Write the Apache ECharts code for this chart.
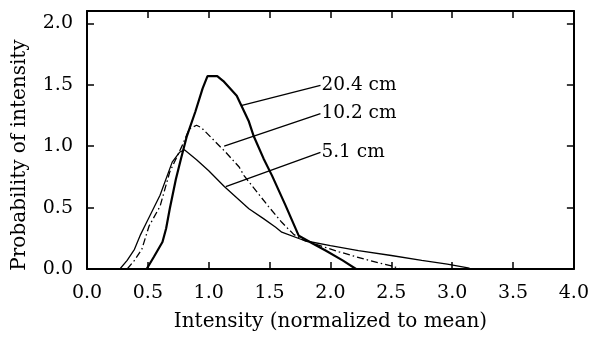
<!DOCTYPE html>
<html>
<head>
<meta charset="utf-8">
<script src="https://cdn.jsdelivr.net/npm/echarts@6/dist/echarts.min.js"></script>
<style>html,body{margin:0;padding:0;background:#fff}#c{width:592px;height:337px}</style>
</head>
<body>
<div id="c"></div>
<script>
// Data
const xTicks = [0, 0.5, 1.0, 1.5, 2.0, 2.5, 3.0, 3.5, 4.0];
const yTicks = [0, 0.5, 1.0, 1.5, 2.0];
const s204 = [[0.49,0],[0.55,0.10],[0.62,0.22],[0.65,0.33],[0.68,0.49],[0.73,0.73],[0.77,0.89],[0.82,1.08],[0.89,1.28],[0.95,1.47],[0.99,1.57],[1.07,1.57],[1.12,1.53],[1.23,1.41],[1.33,1.20],[1.37,1.08],[1.45,0.90],[1.52,0.76],[1.63,0.52],[1.74,0.27],[1.85,0.21],[1.96,0.15],[2.10,0.07],[2.21,0]];
const s102 = [[0.33,0],[0.39,0.07],[0.45,0.16],[0.51,0.35],[0.60,0.51],[0.68,0.79],[0.78,1.00],[0.84,1.14],[0.90,1.17],[0.94,1.15],[1.03,1.06],[1.14,0.95],[1.25,0.83],[1.29,0.76],[1.49,0.51],[1.60,0.38],[1.70,0.28],[1.79,0.23],[2.07,0.14],[2.28,0.08],[2.50,0.025],[2.58,0]];
const s51 = [[0.27,0],[0.33,0.07],[0.39,0.16],[0.44,0.28],[0.49,0.38],[0.60,0.60],[0.70,0.87],[0.76,0.95],[0.80,0.97],[0.90,0.89],[1.00,0.80],[1.13,0.67],[1.33,0.49],[1.45,0.41],[1.55,0.34],[1.60,0.30],[1.79,0.23],[2.00,0.19],[2.23,0.15],[2.50,0.11],[2.75,0.07],[2.96,0.04],[3.13,0.01],[3.16,0]];
const labelTexts = ['20.4 cm', '10.2 cm', '5.1 cm'];
const leaderStart = [[1.265,1.33],[1.127,1.00],[1.14,0.67]];
const leaderEnd = [[1.918,1.495],[1.918,1.265],[1.918,0.95]];

const FONT = 'DejaVu Serif';
const chart = echarts.init(document.getElementById('c'), null, {renderer:'canvas'});
const axisCommon = {
  axisLine:{show:true, onZero:false, lineStyle:{color:'#000', width:2}},
  axisTick:{show:true, inside:true, length:7, lineStyle:{color:'#000', width:1.5}},
  splitLine:{show:false}
};
const series = [
  {type:'line', data:s204, symbol:'none', lineStyle:{color:'#000', width:2.2}, z:3},
  {type:'line', data:s102, symbol:'none', lineStyle:{color:'#000', width:1.3, type:[7,3,1.5,3]}, z:3},
  {type:'line', data:s51, symbol:'none', lineStyle:{color:'#000', width:1.3}, z:3}
];
labelTexts.forEach((t,i)=>{
  series.push({type:'line', data:[leaderStart[i], leaderEnd[i]], symbol:'none', lineStyle:{color:'#000', width:1.3}, z:3});
  series.push({type:'scatter', data:[leaderEnd[i]], symbolSize:0, silent:true, itemStyle:{opacity:1},
    label:{show:true, position:'right', distance:1, formatter:t, color:'#000', opacity:1, fontFamily:FONT, fontSize:18.5}});
});
chart.setOption({
  animation:false,
  backgroundColor:'#fff',
  grid:{left:87, right:15, top:11, bottom:67, show:false},
  xAxis:[
    Object.assign({type:'value', min:0, max:4, interval:0.5, position:'bottom',
      name:'Intensity (normalized to mean)', nameLocation:'middle', nameGap:43,
      nameTextStyle:{color:'#000', fontFamily:FONT, fontSize:20},
      axisLabel:{color:'#000', fontFamily:FONT, fontSize:19, margin:15, formatter:v=>v.toFixed(1)}}, axisCommon),
    Object.assign({type:'value', min:0, max:4, interval:0.5, position:'top', axisLabel:{show:false}}, axisCommon)
  ],
  yAxis:[
    Object.assign({type:'value', min:0, max:2.1, interval:0.5, position:'left',
      name:'Probability of intensity', nameLocation:'middle', nameGap:57,
      nameTextStyle:{color:'#000', fontFamily:FONT, fontSize:20, padding:[0,30,0,0]},
      axisLabel:{color:'#000', fontFamily:FONT, fontSize:19, margin:14, showMaxLabel:false, formatter:v=>v.toFixed(1)}}, axisCommon),
    Object.assign({type:'value', min:0, max:2.1, interval:0.5, position:'right', axisLabel:{show:false}}, axisCommon)
  ],
  series:series
});
</script>
</body>
</html>
